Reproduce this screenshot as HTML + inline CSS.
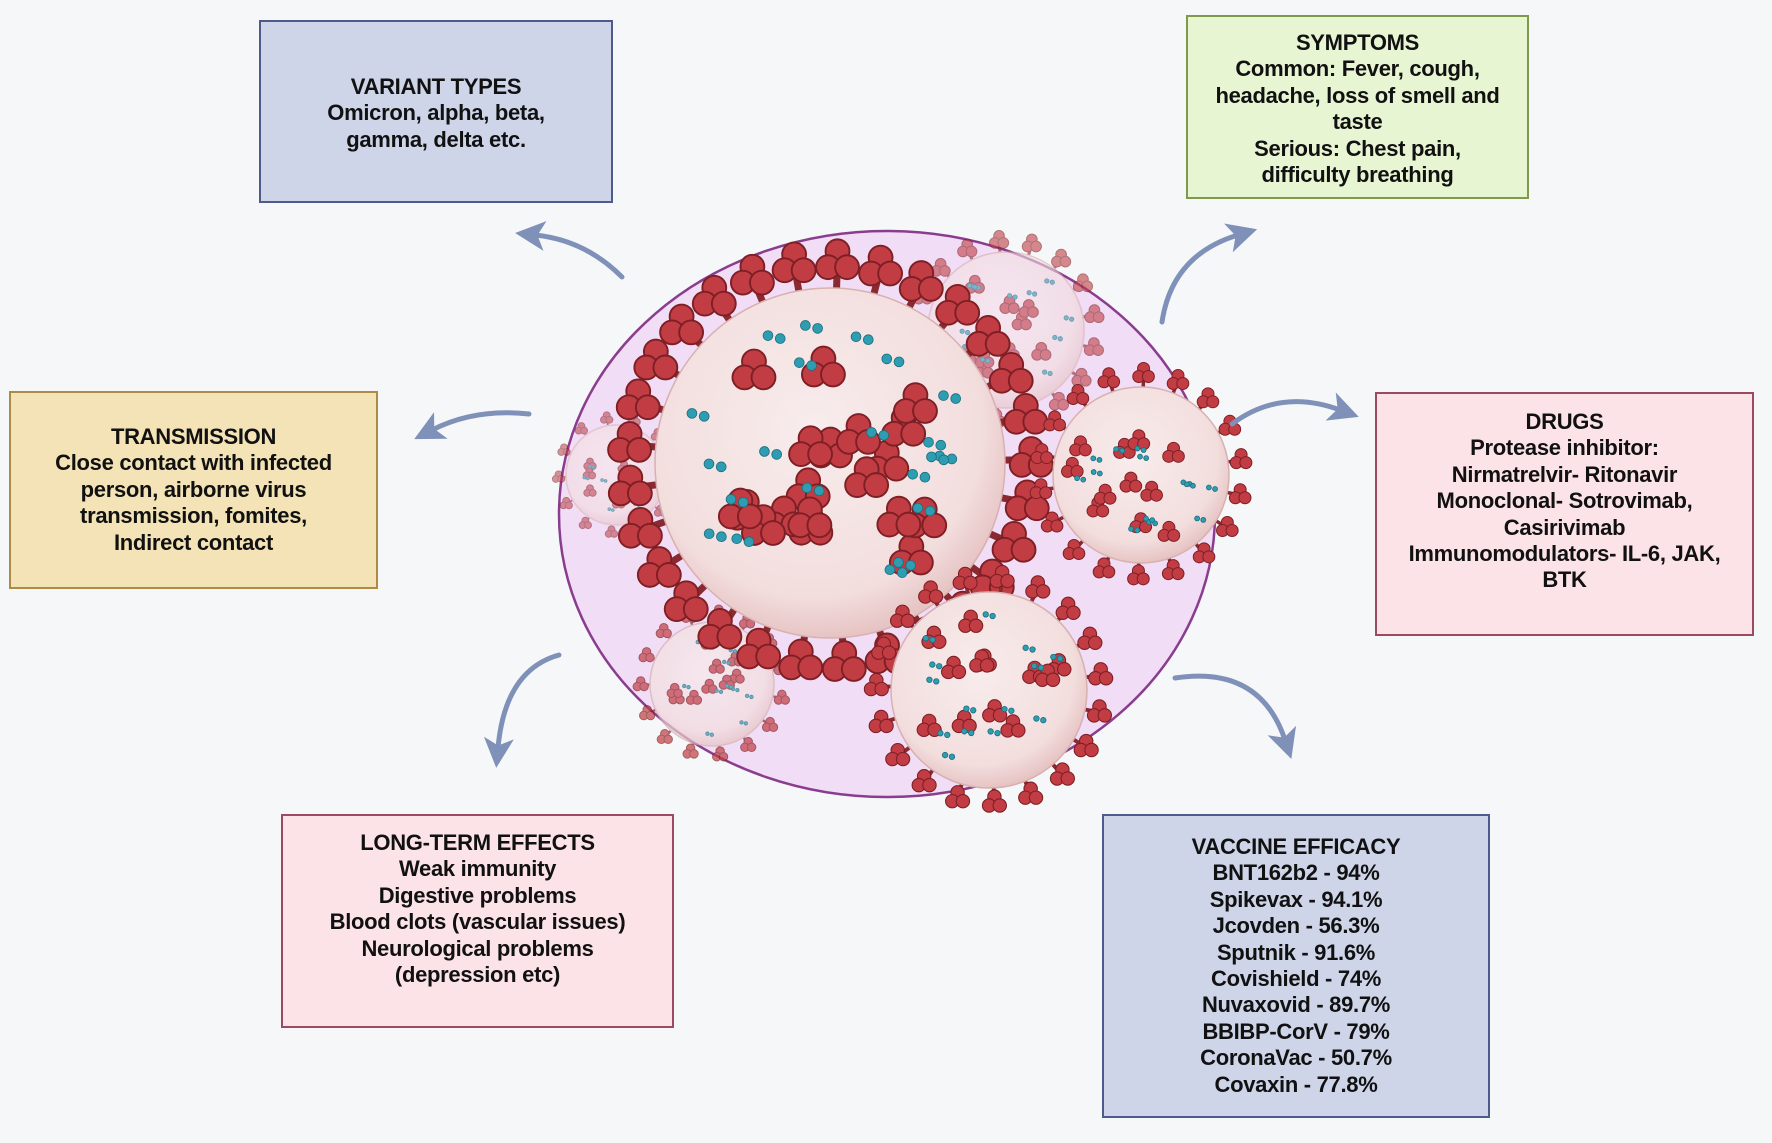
<!DOCTYPE html>
<html><head><meta charset="utf-8">
<style>
body{margin:0;width:1772px;height:1143px;background:#f6f7f8;position:relative;overflow:hidden;font-family:"Liberation Sans",Arial,sans-serif;}
.b{position:absolute;box-sizing:border-box;border:2px solid;text-align:center;font-weight:bold;font-size:22px;line-height:26.4px;color:#111;letter-spacing:-0.3px;white-space:nowrap}
svg{position:absolute;left:0;top:0}
</style></head><body>
<svg id="s" width="1772" height="1143" viewBox="0 0 1772 1143">
<defs>
<radialGradient id="sph" cx="45%" cy="40%" r="60%"><stop offset="0" stop-color="#f8ecec"/><stop offset="0.8" stop-color="#f3dede"/><stop offset="1" stop-color="#e7c4c4"/></radialGradient>
<marker id="ah" markerWidth="6" markerHeight="6" refX="2" refY="3" orient="auto"><path d="M0,0 L6,3 L0,6 L1.5,3 z" fill="#7f91b9"/></marker>
</defs>
<ellipse cx="887" cy="514" rx="328" ry="283" fill="#f1ddf6" stroke="#8a3d8e" stroke-width="2.5"/>
<g id="v"></g>
<g fill="none" stroke="#7f91b9" stroke-width="5" stroke-linecap="round" marker-end="url(#ah)">
<path d="M622,277 Q585,240 535,235"/>
<path d="M529,414 Q475,408 432,430"/>
<path d="M1162,322 Q1172,255 1238,235"/>
<path d="M1232,424 Q1280,388 1340,410"/>
<path d="M1175,678 Q1260,665 1285,740"/>
<path d="M559,655 Q505,670 498,748"/>
</g>
</svg>
<div class="b" style="left:259px;top:20px;width:354px;height:183px;background:#ced5e9;border-color:#4d5a8a;padding-top:52px">VARIANT TYPES<br>Omicron, alpha, beta,<br>gamma, delta etc.</div>
<div class="b" style="left:1186px;top:15px;width:343px;height:184px;background:#e8f5d3;border-color:#7e9a4a;padding-top:13px">SYMPTOMS<br>Common: Fever, cough,<br>headache, loss of smell and<br>taste<br>Serious: Chest pain,<br>difficulty breathing</div>
<div class="b" style="left:9px;top:391px;width:369px;height:198px;background:#f3e3b6;border-color:#ad8a45;padding-top:31px">TRANSMISSION<br>Close contact with infected<br>person, airborne virus<br>transmission, fomites,<br>Indirect contact</div>
<div class="b" style="left:1375px;top:392px;width:379px;height:244px;background:#fbe3e8;border-color:#9c4a62;padding-top:15px">DRUGS<br>Protease inhibitor:<br>Nirmatrelvir- Ritonavir<br>Monoclonal- Sotrovimab,<br>Casirivimab<br>Immunomodulators- IL-6, JAK,<br>BTK</div>
<div class="b" style="left:281px;top:814px;width:393px;height:214px;background:#fbe3e8;border-color:#9c4a62;padding-top:14px">LONG-TERM EFFECTS<br>Weak immunity<br>Digestive problems<br>Blood clots (vascular issues)<br>Neurological problems<br>(depression etc)</div>
<div class="b" style="left:1102px;top:814px;width:388px;height:304px;background:#ced5e9;border-color:#4d5a8a;padding-top:18px">VACCINE EFFICACY<br>BNT162b2 - 94%<br>Spikevax - 94.1%<br>Jcovden - 56.3%<br>Sputnik - 91.6%<br>Covishield - 74%<br>Nuvaxovid - 89.7%<br>BBIBP-CorV - 79%<br>CoronaVac - 50.7%<br>Covaxin - 77.8%</div>
<script>
var g=document.getElementById('v'),NS='http://www.w3.org/2000/svg',seed=7;
function rnd(){seed=(seed*9301+49297)%233280;return seed/233280;}
function el(t,a,p){var e=document.createElementNS(NS,t);for(var k in a)e.setAttribute(k,a[k]);(p||g).appendChild(e);return e;}
function cl(p,x,y,s){var o=s*0.55;[[0,-o],[-o*0.9,o*0.5],[o*0.9,o*0.5]].forEach(function(d){el('circle',{cx:x+d[0],cy:y+d[1],r:s*0.62,fill:'#c13d43',stroke:'#7d1f25','stroke-width':Math.max(1,s*0.1)},p);});}
function virus(cx,cy,r,op){var p=el('g',{opacity:op});
 var n=Math.round(r/8)+7;
 for(var i=0;i<n;i++){var a=i/n*6.283+0.2;var x=cx+Math.cos(a)*r*1.08,y=cy+Math.sin(a)*r*1.08;
  el('line',{x1:cx+Math.cos(a)*r*0.95,y1:cy+Math.sin(a)*r*0.95,x2:x,y2:y,stroke:'#8a2a30','stroke-width':r*0.04},p);
  cl(p,x+Math.cos(a)*r*0.07,y+Math.sin(a)*r*0.07,r*0.11);}
 el('circle',{cx:cx,cy:cy,r:r,fill:'url(#sph)',stroke:'#d8b0b0','stroke-width':1.5},p);
 var m=Math.round(r/12)+4;
 for(var j=0;j<m;j++){var rr=Math.sqrt(rnd())*r*0.8,aa=rnd()*6.283;cl(p,cx+Math.cos(aa)*rr,cy+Math.sin(aa)*rr,r*0.11);}
 for(var k=0;k<m+2;k++){var rr2=Math.sqrt(rnd())*r*0.85,a2=rnd()*6.283,x2=cx+Math.cos(a2)*rr2,y2=cy+Math.sin(a2)*rr2,d=r*0.028;
  el('circle',{cx:x2,cy:y2,r:d,fill:'#2e9db2',stroke:'#1b6e7e','stroke-width':0.8},p);
  el('circle',{cx:x2+d*2.5,cy:y2+d*0.6,r:d,fill:'#2e9db2',stroke:'#1b6e7e','stroke-width':0.8},p);}
}
virus(616,475,50,0.55);
virus(1006,330,78,0.6);
virus(712,684,62,0.7);
virus(830,463,175,1);
virus(1141,475,88,1);
virus(989,690,98,1);
</script>
</body></html>
